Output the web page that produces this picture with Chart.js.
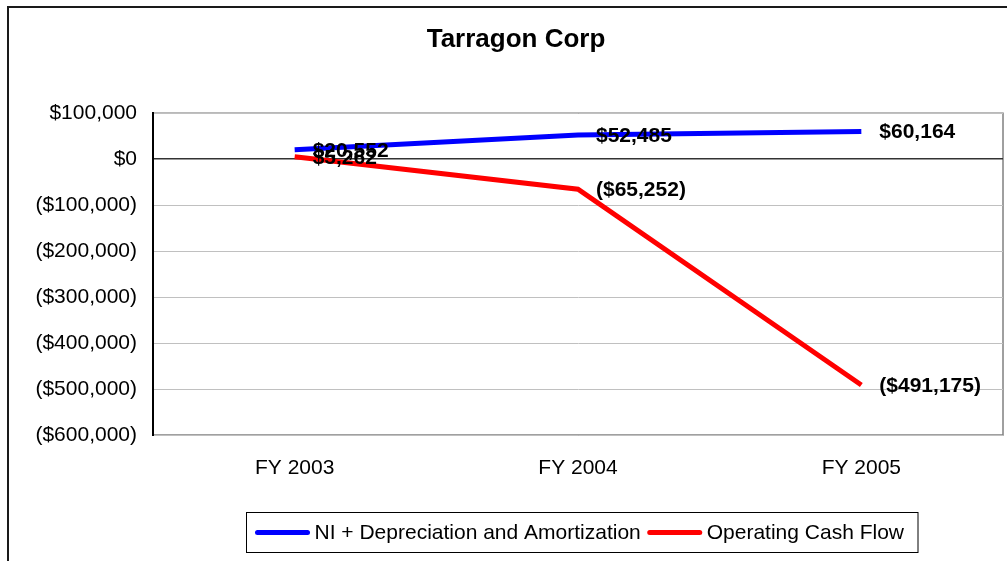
<!DOCTYPE html>
<html>
<head>
<meta charset="utf-8">
<script src="https://cdn.jsdelivr.net/npm/chart.js@4/dist/chart.umd.min.js"></script>
<style>
  html, body { margin: 0; padding: 0; background: #fff; overflow: hidden; }
  canvas { display: block; }
</style>
</head>
<body>
<canvas id="grafica" width="1032" height="561"></canvas>
<script>
// datos de la gráfica
const categorias = ['FY 2003', 'FY 2004', 'FY 2005'];
const niDepAmort = [20552, 52485, 60164];
const flujoOperativo = [5262, -65252, -491175];
const etiquetasSeries = ['NI + Depreciation and Amortization', 'Operating Cash Flow'];
const ejeMin = -600000;
const ejeMax = 100000;
const ejePaso = 100000;

const fuente = 'Arial, "Liberation Sans", sans-serif';

function moneda(v) {
    let s = '$' + Math.abs(v).toLocaleString('en-US');
    return v < 0 ? '(' + s + ')' : s;
}

// fondo, marco exterior y marco del área de trazado
const marco = {
    id: 'marco',
    beforeDraw(chart) {
        const ctx = chart.ctx;
        const a = chart.chartArea;
        ctx.save();
        ctx.fillStyle = '#fff';
        ctx.fillRect(0, 0, chart.width, chart.height);
        ctx.strokeStyle = '#1a1a1a';
        ctx.lineWidth = 2;
        ctx.strokeRect(8, 7, chart.width + 50, chart.height + 50);
        ctx.strokeStyle = '#808080';
        ctx.lineWidth = 1.5;
        ctx.strokeRect(a.left, a.top, a.right - a.left, a.bottom - a.top);
        ctx.restore();
    }
};

// etiquetas de datos a la derecha de cada punto
const etiquetasDatos = {
    id: 'etiquetasDatos',
    afterDatasetsDraw(chart) {
        const ctx = chart.ctx;
        ctx.save();
        ctx.font = 'bold 21px ' + fuente;
        ctx.fillStyle = '#000';
        ctx.textAlign = 'left';
        ctx.textBaseline = 'middle';
        chart.data.datasets.forEach((ds, i) => {
            const meta = chart.getDatasetMeta(i);
            meta.data.forEach((pt, j) => {
                ctx.fillText(moneda(ds.data[j]), pt.x + 18, pt.y + 1);
            });
        });
        ctx.restore();
    }
};

// leyenda con recuadro debajo del eje
const leyenda = {
    id: 'leyenda',
    afterDraw(chart) {
        const ctx = chart.ctx;
        const a = chart.chartArea;
        ctx.save();
        ctx.font = '21px ' + fuente;
        const muestra = 56, hueco = 4, sep = 6, padL = 8, padR = 14;
        const anchos = chart.data.datasets.map(ds => ctx.measureText(ds.label).width);
        let total = padL + padR;
        anchos.forEach((w, i) => { total += muestra + hueco + w + (i > 0 ? sep : 0); });
        const cx = (a.left + a.right) / 2 + 4;
        const top = 512, alto = 40;
        let x = Math.round(cx - total / 2) + 0.5;
        ctx.strokeStyle = '#000';
        ctx.lineWidth = 1;
        ctx.strokeRect(x, top + 0.5, total, alto);
        x += padL;
        const cy = top + alto / 2 + 0.5;
        ctx.textBaseline = 'middle';
        ctx.fillStyle = '#000';
        chart.data.datasets.forEach((ds, i) => {
            if (i > 0) x += sep;
            ctx.strokeStyle = ds.borderColor;
            ctx.lineWidth = 5;
            ctx.lineCap = 'round';
            ctx.beginPath();
            ctx.moveTo(x + 3, cy);
            ctx.lineTo(x + muestra - 3, cy);
            ctx.stroke();
            x += muestra + hueco;
            ctx.fillText(ds.label, x, cy + 1);
            x += anchos[i];
        });
        ctx.restore();
    }
};

const graph = document.getElementById('grafica');
const Grafico = new Chart(graph, {
    type: 'line',
    data: {
        labels: categorias,
        datasets: [{
            label: etiquetasSeries[0],
            data: niDepAmort,
            borderColor: '#0000ff',
            backgroundColor: '#0000ff',
            borderWidth: 5,
            pointRadius: 0,
            tension: 0,
            fill: false
        }, {
            label: etiquetasSeries[1],
            data: flujoOperativo,
            borderColor: '#ff0000',
            backgroundColor: '#ff0000',
            borderWidth: 5,
            pointRadius: 0,
            tension: 0,
            fill: false
        }]
    },
    options: {
        responsive: false,
        animation: false,
        layout: { padding: { left: 29, right: 29, top: 0, bottom: 66 } },
        plugins: {
            legend: { display: false },
            tooltip: { enabled: false },
            title: {
                display: true,
                text: 'Tarragon Corp',
                color: '#000',
                font: { family: fuente, size: 26, weight: 'bold' },
                padding: { top: 24, bottom: 58 }
            }
        },
        scales: {
            x: {
                offset: true,
                grid: { display: false },
                border: { display: false },
                ticks: {
                    color: '#000',
                    font: { family: fuente, size: 21 },
                    padding: 13,
                    maxRotation: 0
                },
                afterFit(scale) { scale.height = 60; }
            },
            y: {
                min: ejeMin,
                max: ejeMax,
                border: { display: true, color: '#000', width: 2 },
                grid: {
                    drawTicks: false,
                    color: ctx => ctx.tick.value === 0 ? '#333333' : '#c0c0c0',
                    lineWidth: ctx => ctx.tick.value === 0 ? 1.5 : 1
                },
                ticks: {
                    stepSize: ejePaso,
                    color: '#000',
                    font: { family: fuente, size: 21 },
                    padding: 16,
                    callback: v => moneda(v)
                },
                afterFit(scale) { scale.width = 124; }
            }
        }
    },
    plugins: [marco, etiquetasDatos, leyenda]
});
</script>
</body>
</html>
